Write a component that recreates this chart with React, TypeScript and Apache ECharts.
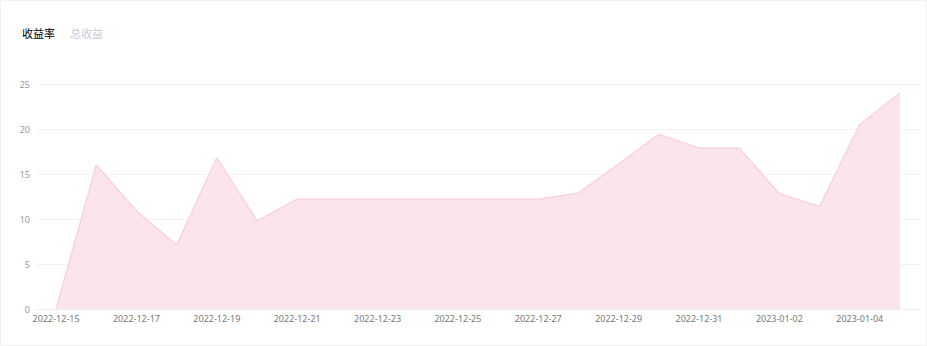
import React, { useEffect, useRef } from "react";
import * as echarts from "echarts";

const categories = [
  "2022-12-15", "2022-12-16", "2022-12-17", "2022-12-18", "2022-12-19", "2022-12-20",
  "2022-12-21", "2022-12-22", "2022-12-23", "2022-12-24", "2022-12-25", "2022-12-26",
  "2022-12-27", "2022-12-28", "2022-12-29", "2022-12-30", "2022-12-31", "2023-01-01",
  "2023-01-02", "2023-01-03", "2023-01-04", "2023-01-05",
];
const yieldRate = [
  0, 16, 10.9, 7.1, 16.8, 9.8, 12.2, 12.2, 12.2, 12.2, 12.2, 12.2,
  12.2, 12.9, 16.1, 19.4, 17.9, 17.9, 12.8, 11.4, 20.5, 24.0,
];
const totalIncome: number[] = [];
const seriesNames = ["收益率", "总收益"];

export default function App() {
  const ref = useRef<HTMLDivElement>(null);
  useEffect(() => {
    if (!ref.current) return;
    const chart = echarts.init(ref.current, undefined, { renderer: "svg" });
    chart.setOption({
      animation: false,
      legend: {
        left: 11,
        top: 20,
        icon: "none",
        itemWidth: 0,
        itemGap: 10,
        data: seriesNames,
        selected: { [seriesNames[0]]: true, [seriesNames[1]]: false },
        textStyle: { color: "#000", fontSize: 11, fontFamily: "Noto Sans CJK SC" },
        inactiveColor: "#c8ccd4",
      },
      grid: { left: 35, right: 6, top: 83, bottom: 36 },
      xAxis: {
        type: "category",
        data: categories,
        boundaryGap: true,
        axisLine: { lineStyle: { color: "#eeeeee" } },
        axisTick: { show: false },
        axisLabel: { color: "#777", fontSize: 9, interval: 1, margin: 5, fontFamily: "Noto Sans" },
      },
      yAxis: {
        type: "value",
        min: 0,
        max: 25,
        interval: 5,
        axisLine: { show: false },
        axisTick: { show: false },
        axisLabel: { color: "#999", fontSize: 9, margin: 6, fontFamily: "Noto Sans" },
        splitLine: { lineStyle: { color: "#f3f3f3" } },
      },
      series: [
        {
          name: seriesNames[0],
          type: "line",
          data: yieldRate,
          symbol: "none",
          lineStyle: { color: "#fad3dc", width: 1.5 },
          itemStyle: { color: "#fad3dc" },
          areaStyle: { color: "#fbe5eb", opacity: 1 },
        },
        {
          name: seriesNames[1],
          type: "line",
          data: totalIncome,
          symbol: "none",
        },
      ],
    });
    return () => chart.dispose();
  }, []);
  return (
    <div
      style={{
        position: "fixed",
        left: 0,
        top: 0,
        width: 927,
        height: 346,
        boxSizing: "border-box",
        border: "1px solid #f2f2f2",
        background: "#fff",
      }}
    >
      <div ref={ref} style={{ width: 925, height: 344 }} />
    </div>
  );
}
